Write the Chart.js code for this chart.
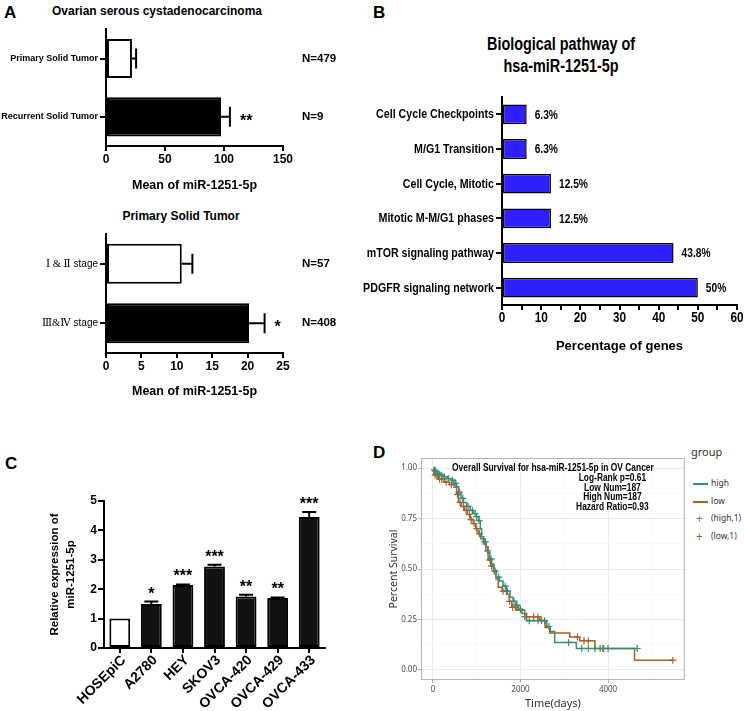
<!DOCTYPE html>
<html>
<head>
<meta charset="utf-8">
<script src="https://cdn.jsdelivr.net/npm/chart.js@4.4.0/dist/chart.umd.min.js"></script>
<style>
  body { margin: 0; background: #fff; }
  #page { position: relative; width: 744px; height: 711px; overflow: hidden; font-family: 'Liberation Sans', Arial, sans-serif; }
  canvas { position: absolute; }
  .t { position: absolute; white-space: nowrap; font-weight: bold; color: #000; line-height: 1; }
  .c { transform: translateX(-50%); }
  .cn { transform: translateX(-50%) scaleX(0.8); }
  .gg { position: absolute; white-space: nowrap; color: #333; line-height: 1; font-family: 'Noto Sans', 'Liberation Sans', sans-serif; }
</style>
</head>
<body>
<div id="page">
  <div class="t" style="left:4px;top:4px;font-size:17px;">A</div>
  <div class="t c" style="left:157px;top:5px;font-size:12px;">Ovarian serous cystadenocarcinoma</div>
  <div class="t c" style="left:181px;top:210px;font-size:12px;">Primary Solid Tumor</div>
  <div class="t" style="left:373px;top:4px;font-size:17px;">B</div>
  <div class="t cn" style="left:561px;top:35px;font-size:18px;">Biological pathway of</div>
  <div class="t cn" style="left:561px;top:57px;font-size:18px;">hsa-miR-1251-5p</div>
  <div class="t" style="left:5px;top:455px;font-size:17px;">C</div>
  <div class="t" style="left:373px;top:444px;font-size:17px;">D</div>

  <canvas id="cA1" width="340" height="175" style="left:0;top:22px;"></canvas>
  <canvas id="cA2" width="340" height="205" style="left:0;top:200px;"></canvas>
  <canvas id="cB" width="404" height="280" style="left:340px;top:85px;"></canvas>
  <canvas id="cC" width="350" height="271" style="left:0;top:440px;"></canvas>
  <canvas id="cD" width="310" height="271" style="left:380px;top:440px;"></canvas>

  <div class="gg" style="left:691px;top:446px;font-size:11px;">group</div>
  <div style="position:absolute;left:693px;top:483px;width:15px;height:1.5px;background:#3a8c78;"></div>
  <div class="gg" style="left:711px;top:479px;font-size:8.5px;">high</div>
  <div style="position:absolute;left:693px;top:501px;width:15px;height:1.5px;background:#a0642c;"></div>
  <div class="gg" style="left:711px;top:497px;font-size:8.5px;">low</div>
  <div class="gg" style="left:696px;top:513px;font-size:12px;color:#3a8c78;">+</div>
  <div class="gg" style="left:711px;top:514px;font-size:8.5px;">(high,1)</div>
  <div class="gg" style="left:696px;top:531px;font-size:12px;color:#a0642c;">+</div>
  <div class="gg" style="left:711px;top:532px;font-size:8.5px;">(low,1)</div>
</div>
<script>
// ---- data ----
const tumorTypes = ['Primary Solid Tumor', 'Recurrent Solid Tumor'];
const tumorMeans = [22, 97.5];
const tumorErr = [3.5, 7.5];
const tumorN = ['N=479', 'N=9'];
const tumorStars = ['', '**'];

const stageLabels = ['\u2160 & \u2161 stage', '\u2162&\u2163 stage'];
const stageMeans = [10.7, 20.2];
const stageErr = [1.5, 2.2];
const stageN = ['N=57', 'N=408'];
const stageStars = ['', '*'];

const pathways = ['Cell Cycle Checkpoints', 'M/G1 Transition', 'Cell Cycle, Mitotic',
  'Mitotic M-M/G1 phases', 'mTOR signaling pathway', 'PDGFR signaling network'];
const pathwayPct = [6.3, 6.3, 12.5, 12.5, 43.8, 50];

const cellLines = ['HOSEpiC', 'A2780', 'HEY', 'SKOV3', 'OVCA-420', 'OVCA-429', 'OVCA-433'];
const cellExpr = [1.0, 1.5, 2.14, 2.77, 1.75, 1.70, 4.46];
const cellErr = [0, 0.08, 0.02, 0.06, 0.06, 0.02, 0.17];
const cellStars = ['', '*', '***', '***', '**', '**', '***'];

// survival curves: [days, survival]
const highCurve = [[0, 1.0], [40, 0.985], [90, 0.975], [160, 0.965], [240, 0.957], [330, 0.948],
  [420, 0.94], [480, 0.925], [540, 0.907], [590, 0.88], [640, 0.85], [700, 0.83], [770, 0.81],
  [850, 0.79], [920, 0.775], [990, 0.76], [1040, 0.74], [1080, 0.70], [1110, 0.66], [1160, 0.635],
  [1220, 0.61], [1260, 0.58], [1300, 0.55], [1340, 0.525], [1390, 0.49], [1450, 0.46], [1520, 0.44],
  [1600, 0.415], [1680, 0.39], [1760, 0.36], [1830, 0.34], [1900, 0.32], [1960, 0.30], [2030, 0.28],
  [2140, 0.244], [2600, 0.215], [2680, 0.19], [2780, 0.136], [3276, 0.106], [4666, 0.106]];
const lowCurve = [[0, 0.99], [20, 0.965], [120, 0.945], [250, 0.93], [380, 0.918], [480, 0.905],
  [540, 0.87], [580, 0.83], [650, 0.81], [720, 0.79], [780, 0.77], [850, 0.745], [920, 0.725],
  [980, 0.70], [1030, 0.675], [1090, 0.65], [1150, 0.625], [1210, 0.59], [1260, 0.545], [1320, 0.515],
  [1380, 0.49], [1440, 0.45], [1490, 0.41], [1580, 0.39], [1680, 0.375], [1740, 0.34], [1800, 0.31],
  [1900, 0.295], [2098, 0.264], [2440, 0.245], [2560, 0.21], [2668, 0.183], [3124, 0.163],
  [3352, 0.145], [3700, 0.106], [4606, 0.048], [5480, 0.048]];
const highCensor = [[30, 0.99], [60, 0.985], [100, 0.975], [150, 0.968], [200, 0.965], [260, 0.957],
  [350, 0.948], [450, 0.94], [520, 0.925], [600, 0.88], [680, 0.85], [800, 0.81], [900, 0.79],
  [960, 0.775], [1000, 0.76], [1050, 0.74], [1170, 0.635], [1200, 0.635], [1330, 0.55], [1400, 0.49],
  [1500, 0.46], [1650, 0.415], [1700, 0.39], [1850, 0.34], [1920, 0.32], [2000, 0.30], [2200, 0.244],
  [2400, 0.244], [2550, 0.244], [2650, 0.215], [3100, 0.136], [3400, 0.106], [3550, 0.106],
  [3700, 0.106], [3900, 0.106], [4000, 0.106], [4666, 0.106]];
const lowCensor = [[50, 0.965], [90, 0.965], [150, 0.945], [200, 0.945], [300, 0.93], [420, 0.918],
  [560, 0.87], [620, 0.83], [700, 0.81], [760, 0.79], [830, 0.77], [870, 0.745], [940, 0.725],
  [1000, 0.70], [1060, 0.675], [1250, 0.59], [1300, 0.545], [1340, 0.515], [1420, 0.49], [1600, 0.39],
  [1750, 0.34], [1820, 0.31], [1880, 0.31], [2100, 0.264], [2300, 0.264], [2400, 0.264], [2480, 0.245],
  [3300, 0.163], [3450, 0.145], [3550, 0.145], [3820, 0.106], [3880, 0.106], [5480, 0.048]];

const tumorTicks = [0, 50, 100, 150];
const stageTicks = [0, 5, 10, 15, 20, 25];
const survTimeTicks = [0, 1000, 2000, 3000, 4000, 5000];
const survPctTicks = [0, 0.125, 0.25, 0.375, 0.5, 0.625, 0.75, 0.875, 1];

// ---- styling helpers ----
const ARIAL = "'Liberation Sans', Arial, sans-serif";
const SERIF = "'Liberation Serif', 'DejaVu Serif', serif";
const GG = "'Noto Sans', 'Liberation Sans', sans-serif";
const HIGH = '#3a8c78';
const LOW = '#a0642c';

Chart.defaults.font.family = ARIAL;
Chart.defaults.color = '#000';
Chart.defaults.animation = false;
Chart.defaults.responsive = false;
Chart.defaults.plugins.legend.display = false;
Chart.defaults.plugins.tooltip.enabled = false;

const blackAxis = (tickLen) => ({
  grid: { display: true, drawOnChartArea: false, color: '#000', lineWidth: 2, tickLength: tickLen, offset: false },
  border: { display: true, color: '#000', width: 2 }
});

// no narrow font installed, so squeeze the text horizontally
function narrowText(ctx, text, x, y, sx) {
  ctx.save();
  ctx.translate(x, y);
  ctx.scale(sx, 1);
  ctx.fillText(text, 0, 0);
  ctx.restore();
}

// error bars, stars and side labels for the GraphPad style bars
function barExtras(err, stars, side, o) {
  return {
    id: 'barExtras',
    afterDatasetsDraw(chart) {
      const ctx = chart.ctx;
      const ds = chart.data.datasets[0];
      const meta = chart.getDatasetMeta(0);
      const horiz = chart.options.indexAxis === 'y';
      const vs = horiz ? chart.scales.x : chart.scales.y;
      ctx.save();
      ctx.strokeStyle = '#000';
      ctx.fillStyle = '#000';
      ctx.lineWidth = o.lineWidth;
      ds.data.forEach((v, i) => {
        const c = horiz ? meta.data[i].y : meta.data[i].x;
        const p0 = vs.getPixelForValue(v);
        const p1 = vs.getPixelForValue(v + err[i]);
        if (err[i] > 0) {
          ctx.beginPath();
          if (horiz) {
            ctx.moveTo(p0, c); ctx.lineTo(p1, c);
            ctx.moveTo(p1, c - o.cap); ctx.lineTo(p1, c + o.cap);
          } else {
            ctx.moveTo(c, p0); ctx.lineTo(c, p1);
            ctx.moveTo(c - o.cap, p1); ctx.lineTo(c + o.cap, p1);
          }
          ctx.stroke();
        }
        if (stars[i]) {
          ctx.font = o.starFont;
          ctx.textBaseline = 'alphabetic';
          if (horiz) {
            ctx.textAlign = 'left';
            ctx.fillText(stars[i], p1 + o.starGap, c + 9);
          } else {
            ctx.textAlign = 'center';
            ctx.fillText(stars[i], c, p1 + o.starGap);
          }
        }
        if (side) {
          ctx.font = o.sideFont;
          ctx.textAlign = 'left'; ctx.textBaseline = 'middle';
          ctx.fillText(side[i], chart.chartArea.right + o.sideGap, c);
        }
      });
      ctx.restore();
    }
  };
}

// "Ⅰ & Ⅱ stage": numerals in a serif face, the word in sans
const stageText = {
  id: 'stageText',
  afterDraw(chart) {
    const { ctx, chartArea: a, scales: { y } } = chart;
    ctx.save();
    ctx.fillStyle = '#000';
    ctx.textAlign = 'right';
    ctx.textBaseline = 'middle';
    chart.data.labels.forEach((s, i) => {
      const cut = s.lastIndexOf(' ');
      const yy = y.getPixelForTick(i);
      ctx.font = '10px ' + ARIAL;
      ctx.fillText(s.slice(cut), a.left - 8, yy);
      const w = ctx.measureText(s.slice(cut)).width;
      ctx.font = '10.5px ' + SERIF;
      ctx.fillText(s.slice(0, cut), a.left - 8 - w, yy);
    });
    ctx.restore();
  }
};

function hBarChart(id, labels, values, ticksList, max, opts) {
  return new Chart(document.getElementById(id), {
    type: 'bar',
    data: {
      labels: labels,
      datasets: [{
        data: values,
        backgroundColor: ['#fff', '#000'],
        borderColor: '#000',
        borderWidth: 2,
        borderSkipped: false,
        barPercentage: 0.67,
        categoryPercentage: 1
      }]
    },
    options: {
      indexAxis: 'y',
      layout: { padding: opts.padding },
      scales: {
        x: Object.assign(blackAxis(5), {
          min: 0, max: max,
          afterBuildTicks: s => { s.ticks = ticksList.map(v => ({ value: v })); },
          ticks: { font: { size: 12, weight: 'bold' }, padding: 1 },
          title: { display: true, text: 'Mean of miR-1251-5p', font: { size: 12.5, weight: 'bold' }, padding: { top: 0, bottom: opts.titlePad } },
          afterFit: s => { s.height = opts.xh; }
        }),
        y: Object.assign(blackAxis(6), {
          ticks: { display: opts.yFont !== null, font: opts.yFont || {}, padding: 2 },
          afterFit: s => { s.width = 106; }
        })
      }
    },
    plugins: [barExtras(opts.err, opts.stars, opts.side, {
      lineWidth: 2, cap: 10, starFont: 'bold 16px ' + ARIAL, starGap: 10,
      sideFont: 'bold 11.5px ' + ARIAL, sideGap: 19
    })].concat(opts.extra || [])
  });
}

// ---- panel A ----
hBarChart('cA1', tumorTypes, tumorMeans, tumorTicks, 150, {
  padding: { left: 0, top: 6, right: 57, bottom: 0 }, xh: 51, titlePad: 4,
  yFont: { size: 9, weight: 'bold' }, err: tumorErr, stars: tumorStars, side: tumorN
});
hBarChart('cA2', stageLabels, stageMeans, stageTicks, 25, {
  padding: { left: 0, top: 34, right: 57, bottom: 0 }, xh: 52, titlePad: 6,
  yFont: null, err: stageErr, stars: stageStars, side: stageN, extra: [stageText]
});

// ---- panel B ----
const pathwayText = {
  id: 'pathwayText',
  afterDatasetsDraw(chart) {
    const { ctx, chartArea: a, scales: { x, y } } = chart;
    const meta = chart.getDatasetMeta(0);
    ctx.save();
    ctx.fillStyle = '#000';
    ctx.textBaseline = 'middle';
    // value labels
    ctx.font = 'bold 12px ' + ARIAL;
    ctx.textAlign = 'left';
    chart.data.datasets[0].data.forEach((v, i) => {
      narrowText(ctx, v + '%', x.getPixelForValue(v) + 8, meta.data[i].y + 1, 0.85);
    });
    // category labels
    ctx.font = 'bold 13px ' + ARIAL;
    ctx.textAlign = 'right';
    chart.data.labels.forEach((s, i) => {
      narrowText(ctx, s, a.left - 8, y.getPixelForTick(i) + 0.5, 0.82);
    });
    // x tick labels
    ctx.font = 'bold 14px ' + ARIAL;
    ctx.textAlign = 'center';
    ctx.textBaseline = 'top';
    x.ticks.forEach((t, i) => {
      if (t.value % 10 === 0) narrowText(ctx, String(t.value), x.getPixelForTick(i), a.bottom + 6, 0.84);
    });
    ctx.restore();
  }
};
new Chart(document.getElementById('cB'), {
  type: 'bar',
  data: {
    labels: pathways,
    datasets: [{
      data: pathwayPct,
      backgroundColor: '#2f1fff',
      borderColor: '#000',
      borderWidth: 1.5,
      borderSkipped: false,
      barPercentage: 0.57,
      categoryPercentage: 1
    }]
  },
  options: {
    indexAxis: 'y',
    layout: { padding: { left: 0, top: 12, right: 7, bottom: 0 } },
    scales: {
      x: Object.assign(blackAxis(5), {
        min: 0, max: 60,
        ticks: { stepSize: 5, display: false },
        title: { display: true, text: 'Percentage of genes', font: { size: 13, weight: 'bold' }, padding: { top: 0, bottom: 11 } },
        afterFit: s => { s.height = 60; }
      }),
      y: Object.assign(blackAxis(6), {
        ticks: { display: false },
        afterFit: s => { s.width = 162; }
      })
    }
  },
  plugins: [pathwayText]
});

// ---- panel C ----
const cellText = {
  id: 'cellText',
  afterDraw(chart) {
    const { ctx, chartArea: a, scales: { x } } = chart;
    ctx.save();
    ctx.fillStyle = '#000';
    ctx.font = 'bold 14px ' + ARIAL;
    ctx.textAlign = 'right';
    ctx.textBaseline = 'middle';
    chart.data.labels.forEach((s, i) => {
      ctx.save();
      ctx.translate(x.getPixelForTick(i) + 4, a.bottom + 10);
      ctx.rotate(-Math.PI / 4);
      ctx.fillText(s, 0, 0);
      ctx.restore();
    });
    ctx.restore();
  }
};
new Chart(document.getElementById('cC'), {
  type: 'bar',
  data: {
    labels: cellLines,
    datasets: [{
      data: cellExpr,
      backgroundColor: ['#fff', '#111', '#111', '#111', '#111', '#111', '#111'],
      borderColor: '#000',
      borderWidth: 2,
      borderSkipped: false,
      barPercentage: 0.66,
      categoryPercentage: 1
    }]
  },
  options: {
    layout: { padding: { left: 0, top: 61, right: 25, bottom: 0 } },
    scales: {
      x: Object.assign(blackAxis(5), {
        ticks: { display: false },
        afterFit: s => { s.height = 63; }
      }),
      y: Object.assign(blackAxis(6), {
        min: 0, max: 5,
        ticks: { stepSize: 0.5, font: { size: 12, weight: 'bold' }, padding: 1,
          callback: v => (Number.isInteger(v) ? v : '') },
        title: { display: true, text: ['Relative expression of', 'miR-1251-5p'],
          font: { size: 11.5, weight: 'bold', lineHeight: 1.45 }, padding: { top: 46, bottom: 0 } },
        afterFit: s => { s.width = 104; }
      })
    }
  },
  plugins: [barExtras(cellErr, cellStars, null, {
    lineWidth: 2, cap: 7, starFont: 'bold 16px ' + ARIAL, starGap: -3
  }), cellText]
});

// ---- panel D ----
const survDecor = {
  id: 'survDecor',
  afterDraw(chart) {
    const { ctx, chartArea: a, scales: { x, y } } = chart;
    ctx.save();
    ctx.strokeStyle = '#b3b3b3';
    ctx.lineWidth = 1;
    ctx.strokeRect(a.left + 0.5, a.top + 0.5, a.width - 1, a.height - 1);
    ctx.fillStyle = '#000';
    ctx.textAlign = 'center';
    ctx.textBaseline = 'middle';
    ctx.font = 'bold 10.5px ' + ARIAL;
    narrowText(ctx, 'Overall Survival for hsa-miR-1251-5p in OV Cancer', x.getPixelForValue(2740), y.getPixelForValue(1.0), 0.8);
    ['Log-Rank p=0.61', 'Low Num=187', 'High Num=187', 'Hazard Ratio=0.93'].forEach((s, i) => {
      narrowText(ctx, s, x.getPixelForValue(4100), y.getPixelForValue(0.95 - i * 0.048), 0.8);
    });
    ctx.restore();
  }
};
const toXY = arr => arr.map(p => ({ x: p[0], y: p[1] }));
const isMajor = c => c.tick && [0, 2000, 4000, 0.25, 0.5, 0.75, 1].includes(c.tick.value);
const ggGrid = {
  color: c => (isMajor(c) ? '#ebebeb' : '#f5f5f5'),
  lineWidth: c => (isMajor(c) ? 1 : 0.6),
  tickColor: c => (isMajor(c) ? '#b3b3b3' : 'rgba(0,0,0,0)'),
  tickLength: 3
};
new Chart(document.getElementById('cD'), {
  type: 'line',
  data: {
    datasets: [
      { data: toXY(highCurve), borderColor: HIGH, borderWidth: 1.5, stepped: true, pointRadius: 0, fill: false },
      { data: toXY(lowCurve), borderColor: LOW, borderWidth: 1.5, stepped: true, pointRadius: 0, fill: false },
      { data: toXY(highCensor), showLine: false, pointStyle: 'cross', pointRadius: 3.5, pointBorderWidth: 1.2, borderColor: HIGH },
      { data: toXY(lowCensor), showLine: false, pointStyle: 'cross', pointRadius: 3.5, pointBorderWidth: 1.2, borderColor: LOW }
    ]
  },
  options: {
    layout: { padding: { left: 0, top: 18, right: 5, bottom: 0 } },
    scales: {
      x: {
        type: 'linear', min: -274, max: 5754,
        afterBuildTicks: s => { s.ticks = survTimeTicks.map(v => ({ value: v })); },
        grid: ggGrid,
        border: { display: false },
        ticks: { font: { size: 8, family: GG }, color: '#4d4d4d', padding: 2,
          callback: v => (v % 2000 === 0 ? v : '') },
        title: { display: true, text: 'Time(days)', color: '#333', font: { size: 11, family: GG }, padding: { top: 0, bottom: 1 } },
        afterFit: s => { s.height = 31; }
      },
      y: {
        min: -0.05, max: 1.05,
        afterBuildTicks: s => { s.ticks = survPctTicks.map(v => ({ value: v })); },
        grid: ggGrid,
        border: { display: false },
        ticks: { font: { size: 8, family: GG }, color: '#4d4d4d', padding: 1,
          callback: v => (v % 0.25 === 0 ? v.toFixed(2) : '') },
        title: { display: true, text: 'Percent Survival', color: '#333', font: { size: 10.5, family: GG }, padding: { top: 8, bottom: 0 } },
        afterFit: s => { s.width = 41; }
      }
    }
  },
  plugins: [survDecor]
});
</script>
</body>
</html>
